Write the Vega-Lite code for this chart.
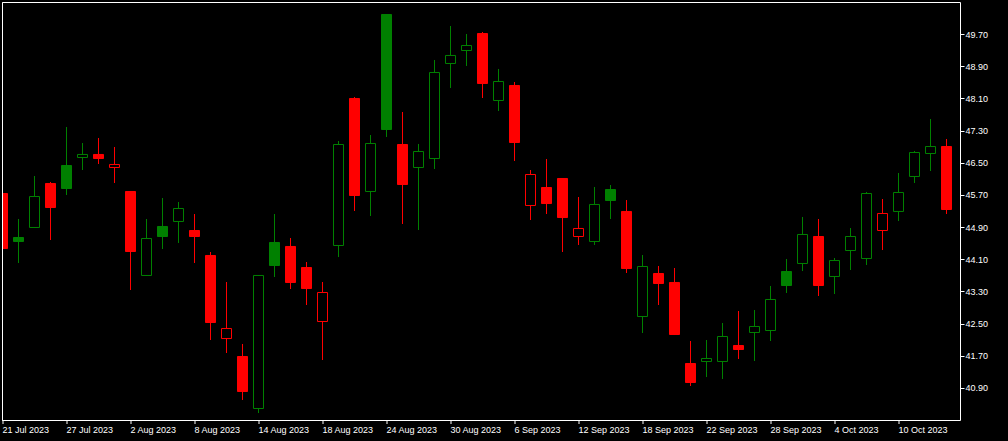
{
  "$schema": "https://vega.github.io/schema/vega-lite/v6.json",
  "width": 958,
  "height": 418,
  "autosize": {"type": "none"},
  "padding": {"left": 2, "top": 2, "right": 48, "bottom": 21},
  "background": "#000000",
  "config": {
    "view": {"stroke": "#ffffff", "strokeWidth": 1, "fill": "#000000"},
    "axis": {"labelFont": "Liberation Sans", "labelFontSize": 9, "labelColor": "#ffffff", "tickColor": "#ffffff", "domainColor": "#ffffff", "grid": false, "title": null}
  },
  "data": {"values": [
    {"date": "21 Jul 2023", "open": 45.735, "high": 45.9, "low": 44.25, "close": 44.368},
    {"date": "24 Jul 2023", "open": 44.641, "high": 45.101, "low": 44.007, "close": 44.542},
    {"date": "25 Jul 2023", "open": 44.890, "high": 46.170, "low": 44.877, "close": 45.660},
    {"date": "26 Jul 2023", "open": 45.984, "high": 46.021, "low": 44.579, "close": 45.387},
    {"date": "27 Jul 2023", "open": 46.431, "high": 47.388, "low": 45.698, "close": 45.859},
    {"date": "28 Jul 2023", "open": 46.630, "high": 46.990, "low": 46.319, "close": 46.705},
    {"date": "31 Jul 2023", "open": 46.705, "high": 47.115, "low": 46.468, "close": 46.605},
    {"date": "1 Aug 2023", "open": 46.381, "high": 46.891, "low": 45.996, "close": 46.456},
    {"date": "2 Aug 2023", "open": 45.785, "high": 45.797, "low": 43.336, "close": 44.293},
    {"date": "3 Aug 2023", "open": 43.697, "high": 45.101, "low": 43.684, "close": 44.616},
    {"date": "4 Aug 2023", "open": 44.915, "high": 45.623, "low": 44.355, "close": 44.666},
    {"date": "7 Aug 2023", "open": 45.039, "high": 45.524, "low": 44.505, "close": 45.362},
    {"date": "8 Aug 2023", "open": 44.815, "high": 45.225, "low": 44.007, "close": 44.666},
    {"date": "9 Aug 2023", "open": 44.194, "high": 44.281, "low": 42.093, "close": 42.528},
    {"date": "10 Aug 2023", "open": 42.130, "high": 43.535, "low": 41.770, "close": 42.379},
    {"date": "11 Aug 2023", "open": 41.683, "high": 41.994, "low": 40.602, "close": 40.813},
    {"date": "14 Aug 2023", "open": 40.390, "high": 43.709, "low": 40.278, "close": 43.697},
    {"date": "15 Aug 2023", "open": 44.517, "high": 45.225, "low": 43.659, "close": 43.945},
    {"date": "16 Aug 2023", "open": 44.418, "high": 44.629, "low": 43.361, "close": 43.523},
    {"date": "17 Aug 2023", "open": 43.895, "high": 44.032, "low": 42.963, "close": 43.373},
    {"date": "18 Aug 2023", "open": 42.553, "high": 43.535, "low": 41.596, "close": 43.274},
    {"date": "21 Aug 2023", "open": 44.442, "high": 47.040, "low": 44.156, "close": 46.953},
    {"date": "22 Aug 2023", "open": 48.097, "high": 48.134, "low": 45.300, "close": 45.685},
    {"date": "23 Aug 2023", "open": 45.785, "high": 47.189, "low": 45.176, "close": 46.978},
    {"date": "24 Aug 2023", "open": 50.185, "high": 50.197, "low": 47.140, "close": 47.326},
    {"date": "25 Aug 2023", "open": 46.953, "high": 47.761, "low": 44.977, "close": 45.959},
    {"date": "28 Aug 2023", "open": 46.381, "high": 46.966, "low": 44.828, "close": 46.779},
    {"date": "29 Aug 2023", "open": 46.605, "high": 49.054, "low": 46.344, "close": 48.743},
    {"date": "30 Aug 2023", "open": 48.967, "high": 49.899, "low": 48.358, "close": 49.166},
    {"date": "31 Aug 2023", "open": 49.290, "high": 49.700, "low": 48.905, "close": 49.414},
    {"date": "1 Sep 2023", "open": 49.712, "high": 49.750, "low": 48.109, "close": 48.470},
    {"date": "5 Sep 2023", "open": 48.047, "high": 48.830, "low": 47.786, "close": 48.519},
    {"date": "6 Sep 2023", "open": 48.420, "high": 48.507, "low": 46.543, "close": 47.003},
    {"date": "7 Sep 2023", "open": 45.437, "high": 46.319, "low": 45.076, "close": 46.207},
    {"date": "8 Sep 2023", "open": 45.884, "high": 46.593, "low": 45.225, "close": 45.486},
    {"date": "11 Sep 2023", "open": 46.108, "high": 46.120, "low": 44.281, "close": 45.138},
    {"date": "12 Sep 2023", "open": 44.666, "high": 45.648, "low": 44.455, "close": 44.865},
    {"date": "13 Sep 2023", "open": 44.542, "high": 45.897, "low": 44.455, "close": 45.462},
    {"date": "14 Sep 2023", "open": 45.834, "high": 45.946, "low": 45.101, "close": 45.561},
    {"date": "15 Sep 2023", "open": 45.288, "high": 45.573, "low": 43.759, "close": 43.871},
    {"date": "18 Sep 2023", "open": 42.677, "high": 44.206, "low": 42.267, "close": 43.920},
    {"date": "19 Sep 2023", "open": 43.746, "high": 43.933, "low": 42.963, "close": 43.498},
    {"date": "20 Sep 2023", "open": 43.523, "high": 43.883, "low": 42.217, "close": 42.230},
    {"date": "21 Sep 2023", "open": 41.509, "high": 42.068, "low": 40.950, "close": 41.037},
    {"date": "22 Sep 2023", "open": 41.559, "high": 42.093, "low": 41.173, "close": 41.633},
    {"date": "25 Sep 2023", "open": 41.559, "high": 42.516, "low": 41.124, "close": 42.180},
    {"date": "26 Sep 2023", "open": 41.956, "high": 42.814, "low": 41.621, "close": 41.857},
    {"date": "27 Sep 2023", "open": 42.280, "high": 42.839, "low": 41.571, "close": 42.429},
    {"date": "28 Sep 2023", "open": 42.329, "high": 43.436, "low": 42.068, "close": 43.100},
    {"date": "29 Sep 2023", "open": 43.796, "high": 44.107, "low": 43.262, "close": 43.448},
    {"date": "2 Oct 2023", "open": 43.995, "high": 45.151, "low": 43.808, "close": 44.716},
    {"date": "3 Oct 2023", "open": 44.666, "high": 45.101, "low": 43.187, "close": 43.448},
    {"date": "4 Oct 2023", "open": 43.672, "high": 44.132, "low": 43.237, "close": 44.069},
    {"date": "5 Oct 2023", "open": 44.318, "high": 44.877, "low": 43.833, "close": 44.666},
    {"date": "6 Oct 2023", "open": 44.119, "high": 45.772, "low": 43.958, "close": 45.735},
    {"date": "9 Oct 2023", "open": 44.815, "high": 45.598, "low": 44.330, "close": 45.238},
    {"date": "10 Oct 2023", "open": 45.288, "high": 46.245, "low": 45.051, "close": 45.760},
    {"date": "11 Oct 2023", "open": 46.158, "high": 46.792, "low": 45.996, "close": 46.754},
    {"date": "12 Oct 2023", "open": 46.729, "high": 47.587, "low": 46.294, "close": 46.903},
    {"date": "13 Oct 2023", "open": 46.903, "high": 47.090, "low": 45.225, "close": 45.337}
  ]},
  "transform": [{"window": [{"op": "lag", "field": "close", "as": "prev"}]}],
  "encoding": {
    "x": {
      "field": "date", "type": "ordinal", "sort": null,
      "scale": {"type": "point", "range": [0.5, 944.5], "padding": 0},
      "axis": {
        "orient": "bottom",
        "values": ["21 Jul 2023", "27 Jul 2023", "2 Aug 2023", "8 Aug 2023", "14 Aug 2023", "18 Aug 2023", "24 Aug 2023", "30 Aug 2023", "6 Sep 2023", "12 Sep 2023", "18 Sep 2023", "22 Sep 2023", "28 Sep 2023", "4 Oct 2023", "10 Oct 2023"],
        "translate": 0, "domain": false, "tickSize": 4, "labelAlign": "left", "labelBaseline": "top",
        "labelPadding": 2, "labelAngle": 0, "labelOverlap": false, "labelBound": false, "labelFlush": false, "title": null
      }
    }
  },
  "layer": [
    {
      "mark": {"type": "rule", "strokeWidth": 1, "clip": true},
      "encoding": {
        "y": {
          "field": "low", "type": "quantitative",
          "scale": {"domain": [40.1045, 50.4955], "zero": false, "nice": false},
          "axis": {"orient": "right", "values": [40.9, 41.7, 42.5, 43.3, 44.1, 44.9, 45.7, 46.5, 47.3, 48.1, 48.9, 49.7], "format": ".2f", "tickSize": 4, "labelPadding": 1, "domain": false, "title": null, "labelBound": false, "labelOverlap": false, "labelFlush": false}
        },
        "y2": {"field": "high"},
        "color": {"condition": {"test": "datum.prev != null && datum.close >= datum.prev", "value": "#008000"}, "value": "#ff0000"}
      }
    },
    {
      "mark": {"type": "bar", "size": 10, "strokeWidth": 1, "clip": true},
      "encoding": {
        "y": {
          "field": "open", "type": "quantitative",
          "axis": {"orient": "left", "labels": false, "ticks": false, "domain": true, "zindex": 1, "title": null}
        },
        "y2": {"field": "close"},
        "fill": {"condition": [
          {"test": "datum.close > datum.open", "value": "#000000"},
          {"test": "datum.prev != null && datum.close >= datum.prev", "value": "#008000"}
        ], "value": "#ff0000"},
        "stroke": {"condition": {"test": "datum.prev != null && datum.close >= datum.prev", "value": "#008000"}, "value": "#ff0000"}
      }
    }
  ],
  "resolve": {"axis": {"y": "independent"}}
}
